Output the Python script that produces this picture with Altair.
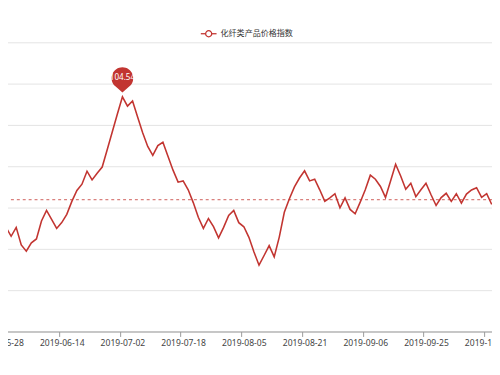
import json
import altair as alt
import pandas as pd

RED = "#c23531"

dates = [
    "2019-05-28", "2019-05-29", "2019-05-30", "2019-05-31", "2019-06-03", "2019-06-04",
    "2019-06-05", "2019-06-06", "2019-06-10", "2019-06-11", "2019-06-12", "2019-06-13",
    "2019-06-14", "2019-06-17", "2019-06-18", "2019-06-19", "2019-06-20", "2019-06-21",
    "2019-06-24", "2019-06-25", "2019-06-26", "2019-06-27", "2019-06-28", "2019-07-01",
    "2019-07-02", "2019-07-03", "2019-07-04", "2019-07-05", "2019-07-08", "2019-07-09",
    "2019-07-10", "2019-07-11", "2019-07-12", "2019-07-15", "2019-07-16", "2019-07-17",
    "2019-07-18", "2019-07-19", "2019-07-22", "2019-07-23", "2019-07-24", "2019-07-25",
    "2019-07-26", "2019-07-29", "2019-07-30", "2019-07-31", "2019-08-01", "2019-08-02",
    "2019-08-05", "2019-08-06", "2019-08-07", "2019-08-08", "2019-08-09", "2019-08-12",
    "2019-08-13", "2019-08-14", "2019-08-15", "2019-08-16", "2019-08-19", "2019-08-20",
    "2019-08-21", "2019-08-22", "2019-08-23", "2019-08-26", "2019-08-27", "2019-08-28",
    "2019-08-29", "2019-08-30", "2019-09-02", "2019-09-03", "2019-09-04", "2019-09-05",
    "2019-09-06", "2019-09-09", "2019-09-10", "2019-09-11", "2019-09-12", "2019-09-16",
    "2019-09-17", "2019-09-18", "2019-09-19", "2019-09-20", "2019-09-23", "2019-09-24",
    "2019-09-25", "2019-09-26", "2019-09-27", "2019-09-30", "2019-10-08", "2019-10-09",
    "2019-10-10", "2019-10-11", "2019-10-14", "2019-10-15", "2019-10-16", "2019-10-17",
    "2019-10-18", "2019-10-21",
]

values = [
    97.71, 98.22, 97.79, 98.22, 97.37, 97.07, 97.47, 97.66, 98.53, 99.04, 98.61, 98.17,
    98.45, 98.85, 99.48, 100.01, 100.31, 100.94, 100.52, 100.84, 101.14, 101.99, 102.85, 103.71,
    104.54, 104.09, 104.34, 103.56, 102.80, 102.14, 101.71, 102.18, 102.34, 101.66, 100.99, 100.41,
    100.47, 100.04, 99.42, 98.71, 98.17, 98.65, 98.26, 97.71, 98.22, 98.80, 99.04, 98.45,
    98.25, 97.74, 97.03, 96.39, 96.86, 97.34, 96.79, 97.75, 98.95, 99.61, 100.18, 100.61,
    100.96, 100.47, 100.55, 100.04, 99.48, 99.65, 99.85, 99.17, 99.65, 99.09, 98.88, 99.44,
    100.04, 100.75, 100.55, 100.20, 99.67, 100.47, 101.28, 100.71, 100.07, 100.36, 99.71, 100.04,
    100.36, 99.80, 99.28, 99.66, 99.87, 99.48, 99.85, 99.40, 99.83, 100.03, 100.14, 99.67,
    99.85, 99.33,
]

series_name = "化纤类产品价格指数"
mean_value = 99.56
tick_idx = [0, 12, 24, 36, 48, 60, 72, 84, 96]
grid_vals = [93.18, 95.18, 97.18, 99.18, 101.18, 103.18, 105.18, 107.18]

df = pd.DataFrame({"i": list(range(len(dates))), "date": dates, "value": values})
peak_df = df.loc[[int(df["value"].idxmax())]]

x_scale = alt.Scale(domain=[-0.175, 97.05], nice=False, zero=False)
y_scale = alt.Scale(domain=[grid_vals[0], grid_vals[-1]], nice=False, zero=False)
label_expr = json.dumps(dates) + "[datum.value]"

x_axis = alt.Axis(
    values=tick_idx, labelExpr=label_expr, title=None, grid=False,
    domainColor="#9a9a9a", tickColor="#9a9a9a", tickSize=5,
    tickOffset=-2.6, labelOffset=2.6, labelFont="Noto Sans", labelFontSize=8.7,
    labelColor="#444444", labelPadding=2, labelFlush=False, labelOverlap=False,
)
y_axis = alt.Axis(
    values=grid_vals, labels=False, ticks=False, domain=False, title=None,
    gridColor="#e3e3e3", gridWidth=1,
)

line = alt.Chart(df).mark_line(color=RED, strokeWidth=1.6, clip=True).encode(
    x=alt.X("i:Q", scale=x_scale, axis=x_axis),
    y=alt.Y("value:Q", scale=y_scale, axis=y_axis),
)

mean_rule = alt.Chart(pd.DataFrame({"m": [mean_value]})).mark_rule(
    color=RED, strokeDash=[3, 3], strokeWidth=1, opacity=0.8
).encode(y=alt.Y("m:Q", scale=y_scale))

PIN = "M0,-0.225 L-0.359,-0.533 A0.55,0.55 0 1,1 0.359,-0.533 Z"
pin = alt.Chart(peak_df).mark_point(
    shape=PIN, size=1600, filled=True, color=RED, opacity=1, strokeWidth=0
).encode(x=alt.X("i:Q", scale=x_scale), y=alt.Y("value:Q", scale=y_scale))

pin_text = alt.Chart(peak_df).mark_text(
    color="white", fontSize=8.2, dy=-19, font="Noto Sans", baseline="middle"
).encode(
    x=alt.X("i:Q", scale=x_scale), y=alt.Y("value:Q", scale=y_scale),
    text=alt.Text("value:Q", format=".2f"),
)

one = pd.DataFrame({"a": [0]})
leg_line = alt.Chart(one).mark_rule(color=RED, strokeWidth=1.3).encode(
    x=alt.value(204), x2=alt.value(220), y=alt.value(-8.7)
)
leg_circle = alt.Chart(one).mark_point(
    shape="circle", size=38, filled=True, fill="white", stroke=RED, strokeWidth=1.3, opacity=1
).encode(x=alt.value(212), y=alt.value(-8.7))
leg_text = alt.Chart(one).mark_text(
    align="left", baseline="middle", font="Noto Sans CJK SC", fontSize=8.2, color="#333333"
).encode(x=alt.value(224), y=alt.value(-8.7), text=alt.value(series_name))

chart = alt.layer(
    line, mean_rule, pin, pin_text, leg_line, leg_circle, leg_text
).properties(
    width=500, height=294,
    autosize=alt.AutoSizeParams(type="none"),
    padding={"left": -8, "top": 32, "right": 0, "bottom": 20},
    background="white",
).configure_view(stroke=None)

chart.save("out.html", embed_options={"renderer": "svg", "actions": False})
